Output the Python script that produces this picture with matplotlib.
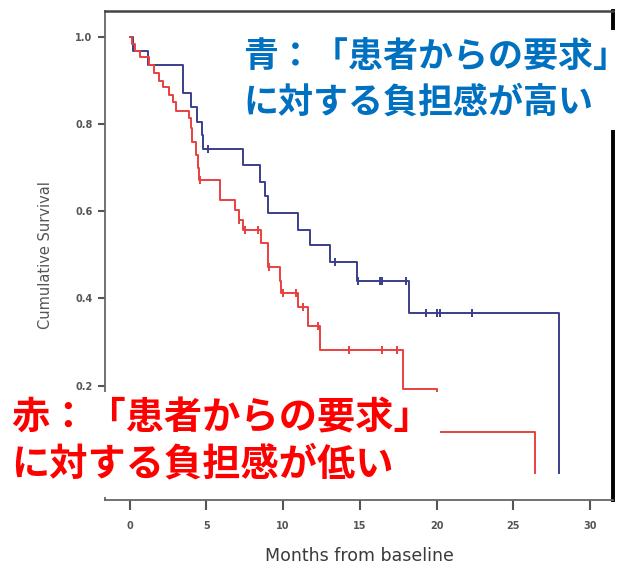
import numpy as np
import matplotlib
matplotlib.use("Agg")
import matplotlib.pyplot as plt
from matplotlib.patches import Rectangle

plt.rcParams['font.family'] = ['DejaVu Sans']

# Kaplan-Meier steps: time of each drop (months) and survival after it
blue_times = [0, 0.2, 1.2, 3.5, 4.0, 4.4, 4.7, 4.8, 7.4, 8.5, 8.85, 9.05,
              11.0, 11.75, 13.07, 14.85, 18.2, 28.0]
blue_surv = [1.0, 0.968, 0.935, 0.871, 0.839, 0.806, 0.774, 0.742, 0.706,
             0.668, 0.634, 0.596, 0.557, 0.523, 0.484, 0.440, 0.367, 0.0]
blue_censor = [5.1, 13.4, 14.9, 16.3, 16.45, 18.0, 19.3, 20.05, 20.2, 22.3]

red_times = [0, 0.15, 0.35, 0.7, 1.3, 1.6, 1.9, 2.2, 2.6, 2.85, 3.05, 3.9,
             4.0, 4.1, 4.3, 4.45, 4.5, 5.9, 6.9, 7.1, 7.4, 8.55, 9.05, 9.8,
             9.9, 11.0, 11.65, 12.4, 17.8, 20.0, 26.4]
red_surv = [1.0, 0.984, 0.968, 0.955, 0.935, 0.917, 0.90, 0.885, 0.867,
            0.85, 0.83, 0.814, 0.79, 0.76, 0.73, 0.70, 0.672, 0.626, 0.603,
            0.58, 0.557, 0.527, 0.473, 0.439, 0.412, 0.381, 0.336, 0.282,
            0.193, 0.094, 0.0]
red_censor = [4.6, 7.15, 7.5, 8.35, 9.1, 10.0, 10.85, 11.3, 12.3, 14.3,
              16.45, 17.4]

x_ticks = [0, 5, 10, 15, 20, 25, 30]
y_ticks = [0.2, 0.4, 0.6, 0.8, 1.0]

blue_label = ["青：「患者からの要求」", "に対する負担感が高い"]
red_label = ["赤：「患者からの要求」", "に対する負担感が低い"]

BLUE = '#3b3f8c'
RED = '#e8403f'


def surv_at(times, surv, t):
    i = np.searchsorted(times, t, side='right') - 1
    return np.asarray(surv)[i]


fig = plt.figure(figsize=(6.36, 5.68), dpi=100)
ax = fig.add_axes([0.165, 0.120, 0.799, 0.861])

for times, surv, cens, col in [(blue_times, blue_surv, blue_censor, BLUE),
                               (red_times, red_surv, red_censor, RED)]:
    ax.step(times, surv, where='post', color=col, lw=1.4)
    ax.plot(cens, surv_at(times, surv, cens), ls='none', marker='|',
            ms=6, mew=1.4, color=col)

ax.set_xlim(-1.6, 31.5)
ax.set_ylim(-0.062, 1.06)
ax.set_xticks(x_ticks)
ax.set_yticks(y_ticks)
ax.set_xticklabels([str(v) for v in x_ticks])
ax.set_yticklabels([f"{v:.1f}" for v in y_ticks])
ax.tick_params(axis='both', colors='#555555', labelsize=7, width=1.5)
ax.tick_params(axis='x', length=7, pad=8)
ax.tick_params(axis='y', length=5, pad=4)
for lab in ax.get_xticklabels() + ax.get_yticklabels():
    lab.set_fontweight('bold')

ax.spines['left'].set_color('#666666')
ax.spines['left'].set_linewidth(1.3)
ax.spines['bottom'].set_color('#666666')
ax.spines['bottom'].set_linewidth(1.3)
ax.spines['top'].set_color('#444444')
ax.spines['top'].set_linewidth(1.8)
ax.spines['right'].set_color('black')
ax.spines['right'].set_linewidth(2.8)

ax.set_xlabel("Months from baseline", fontsize=12.5, color='#3a3a3a',
              labelpad=12)
ax.set_ylabel("Cumulative Survival", fontsize=10.5, color='#555555',
              labelpad=16)

# white panels carrying the group descriptions
fig.add_artist(Rectangle((0.374, 0.771), 0.626, 0.176, facecolor='white',
                         edgecolor='none', transform=fig.transFigure,
                         zorder=5))
fig.add_artist(Rectangle((0.0, 0.125), 0.692, 0.185, facecolor='white',
                         edgecolor='none', transform=fig.transFigure,
                         zorder=5))

jp = ['Noto Sans CJK JP', 'DejaVu Sans']
for i, line in enumerate(blue_label):
    fig.text(243 / 636, 1 - (56 + 46 * i) / 568, line, color='#0070c0',
             fontsize=25.2, fontweight='bold', family=jp, ha='left',
             va='center', zorder=6)
for i, line in enumerate(red_label):
    fig.text(11 / 636, 1 - (418 + 46 * i) / 568, line, color='#ff0000',
             fontsize=27.5, fontweight='bold', family=jp, ha='left',
             va='center', zorder=6)

fig.savefig("out.png", dpi=100)
